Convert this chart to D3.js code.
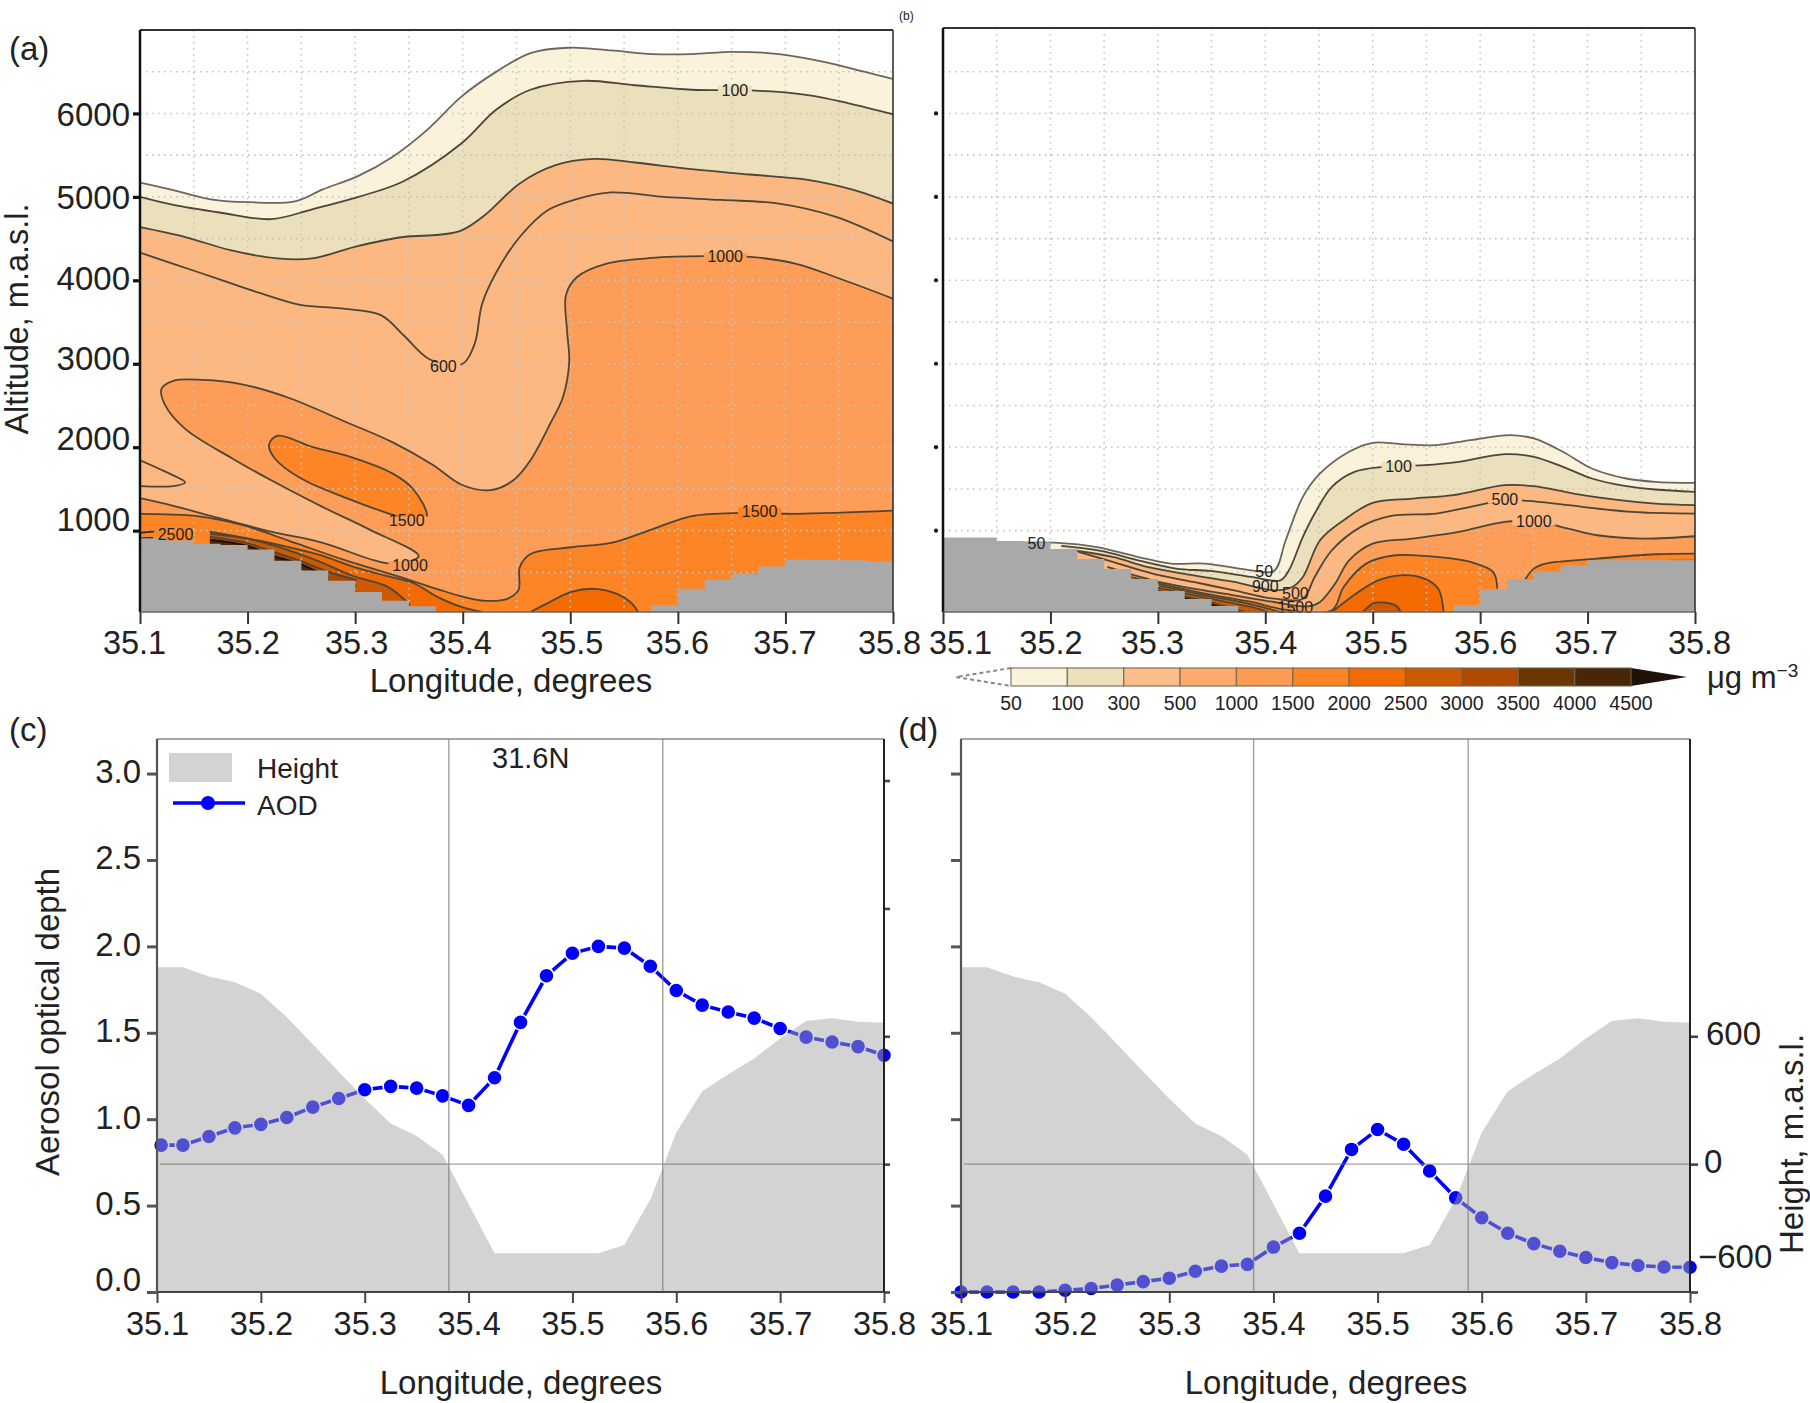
<!DOCTYPE html>
<html>
<head>
<meta charset="utf-8">
<script src="https://cdnjs.cloudflare.com/ajax/libs/d3/7.8.5/d3.min.js"></script>
<style>
  body { margin: 0; background: #fff; }
  text { font-family: 'Liberation Sans', sans-serif; fill: #222; }
</style>
</head>
<body>
<div id="chart"></div>
<script>
// Longitude axis, shared by all panels
const lonTicks = [35.1, 35.2, 35.3, 35.4, 35.5, 35.6, 35.7, 35.8];
const altTicks = [1000, 2000, 3000, 4000, 5000, 6000];
const gridLons = [35.15, 35.2, 35.25, 35.3, 35.35, 35.4, 35.45, 35.5, 35.55, 35.6, 35.65, 35.7, 35.75];
const gridAlts = [500, 1000, 1500, 2000, 2500, 3000, 3500, 4000, 4500, 5000, 5500, 6000, 6500];

// Panel (a) contours, [longitude, altitude]
const a50 = [[35.1, 5172], [35.131, 5081], [35.169, 4963], [35.201, 4936], [35.244, 4947], [35.27, 5090], [35.303, 5252], [35.335, 5482], [35.367, 5803], [35.399, 6204], [35.431, 6498], [35.463, 6723], [35.498, 6787], [35.538, 6755], [35.576, 6712], [35.613, 6712], [35.651, 6739], [35.694, 6712], [35.737, 6616], [35.774, 6498], [35.8, 6413]];
const a100 = [[35.1, 5000], [35.131, 4904], [35.174, 4813], [35.222, 4733], [35.26, 4851], [35.303, 5000], [35.345, 5188], [35.399, 5643], [35.431, 6044], [35.463, 6284], [35.512, 6391], [35.56, 6338], [35.613, 6284], [35.672, 6274], [35.721, 6220], [35.758, 6124], [35.8, 5990]];
const a300 = [[35.1, 4637], [35.142, 4519], [35.185, 4358], [35.228, 4262], [35.26, 4262], [35.303, 4412], [35.345, 4519], [35.378, 4546], [35.399, 4599], [35.421, 4786], [35.453, 5161], [35.485, 5375], [35.522, 5455], [35.56, 5412], [35.613, 5332], [35.667, 5268], [35.721, 5204], [35.764, 5081], [35.8, 4920]];
const a600 = [[35.1, 4332], [35.131, 4198], [35.174, 4011], [35.211, 3850], [35.249, 3706], [35.287, 3663], [35.324, 3583], [35.345, 3342], [35.37, 3048], [35.399, 2994], [35.411, 3235], [35.418, 3717], [35.431, 4091], [35.453, 4519], [35.479, 4840], [35.506, 4974], [35.538, 5054], [35.587, 5000], [35.64, 4963], [35.694, 4920], [35.747, 4760], [35.8, 4465]];
const a1000 = [[35.8, 3781], [35.747, 4037], [35.71, 4198], [35.67, 4278], [35.624, 4289], [35.576, 4268], [35.533, 4198], [35.506, 4037], [35.496, 3824], [35.497, 3395], [35.499, 3021], [35.493, 2593], [35.482, 2299], [35.463, 1844], [35.447, 1603], [35.426, 1486], [35.399, 1550], [35.372, 1790], [35.335, 2058], [35.292, 2299], [35.238, 2593], [35.195, 2754], [35.158, 2807], [35.131, 2796], [35.12, 2700], [35.123, 2513], [35.142, 2219], [35.185, 1871], [35.222, 1603], [35.27, 1282], [35.313, 1015], [35.359, 694], [35.34, 603], [35.319, 640], [35.27, 854], [35.222, 988], [35.174, 1149], [35.131, 1298], [35.1, 1389]];
const aWedge = [[35.1, 1844], [35.123, 1710], [35.142, 1577], [35.131, 1534], [35.1, 1534]];
const aLobe1500 = [[35.228, 2138], [35.26, 2004], [35.292, 1898], [35.335, 1683], [35.354, 1496], [35.367, 1175], [35.363, 1084], [35.332, 1202], [35.292, 1389], [35.249, 1630], [35.225, 1871], [35.22, 2031]];
const a1500 = [[35.1, 1202], [35.153, 1175], [35.195, 1068], [35.238, 881], [35.292, 640], [35.34, 453], [35.378, 293], [35.399, 212], [35.421, 159], [35.442, 186], [35.452, 293], [35.453, 560], [35.463, 720], [35.501, 801], [35.538, 854], [35.576, 1015], [35.613, 1175], [35.659, 1213], [35.71, 1202], [35.8, 1239]];
const a2000Bump = [[35.463, 25], [35.479, 132], [35.501, 266], [35.522, 303], [35.544, 239], [35.557, 132], [35.563, 25]];
const a2000 = [[35.165, 989], [35.199, 909], [35.236, 809], [35.267, 709], [35.298, 569], [35.329, 457], [35.354, 373], [35.376, 209], [35.398, 89], [35.418, 25]];
const a2500 = [[35.165, 961], [35.205, 889], [35.237, 769], [35.267, 629], [35.298, 457], [35.33, 329], [35.351, 109]];
const a3000 = [[35.165, 925], [35.199, 853], [35.224, 745], [35.251, 629], [35.275, 509], [35.301, 409]];
const a3500 = [[35.165, 889], [35.199, 821], [35.224, 697], [35.251, 589], [35.275, 433]];
const aEdge3500 = [[35.1, 900], [35.112, 905]];
const aEdge3000 = [[35.1, 975], [35.113, 990]];

// Panel (b) contours
const b50 = [[35.175, 857], [35.207, 853], [35.242, 805], [35.279, 693], [35.312, 605], [35.344, 605], [35.387, 525], [35.408, 517], [35.419, 885], [35.435, 1405], [35.451, 1685], [35.478, 1945], [35.5, 2053], [35.526, 2037], [35.559, 2025], [35.591, 2085], [35.628, 2145], [35.65, 2105], [35.677, 1945], [35.704, 1745], [35.736, 1625], [35.763, 1585], [35.8, 1573]];
const b100 = [[35.21, 817], [35.247, 757], [35.279, 653], [35.317, 545], [35.349, 517], [35.387, 445], [35.414, 405], [35.422, 525], [35.435, 925], [35.446, 1205], [35.462, 1525], [35.483, 1705], [35.51, 1765], [35.548, 1785], [35.58, 1825], [35.623, 1917], [35.65, 1885], [35.677, 1765], [35.704, 1625], [35.736, 1533], [35.763, 1493], [35.8, 1465]];
const b300 = [[35.22, 765], [35.258, 685], [35.29, 565], [35.333, 465], [35.371, 385], [35.408, 285], [35.425, 325], [35.435, 445], [35.451, 885], [35.473, 1125], [35.5, 1333], [35.537, 1385], [35.575, 1425], [35.623, 1545], [35.65, 1533], [35.687, 1445], [35.73, 1365], [35.763, 1325], [35.8, 1305]];
const b500 = [[35.226, 745], [35.258, 625], [35.295, 485], [35.333, 385], [35.371, 285], [35.408, 185], [35.435, 185], [35.446, 445], [35.462, 765], [35.489, 1045], [35.516, 1173], [35.559, 1205], [35.591, 1285], [35.623, 1365], [35.645, 1357], [35.682, 1305], [35.741, 1225], [35.8, 1205]];
const b1000 = [[35.253, 565], [35.295, 405], [35.333, 305], [35.371, 225], [35.408, 145], [35.44, 93], [35.451, 145], [35.465, 365], [35.478, 645], [35.5, 845], [35.537, 905], [35.58, 985], [35.623, 1105], [35.65, 1117], [35.682, 1025], [35.709, 945], [35.752, 905], [35.8, 933]];
const b1500 = [[35.274, 445], [35.301, 365], [35.344, 245], [35.387, 145], [35.419, 53], [35.462, 45], [35.473, 325], [35.494, 605], [35.521, 705], [35.559, 685], [35.591, 625], [35.612, 505], [35.616, 305]];
const b1500Right = [[35.642, 417], [35.65, 545], [35.661, 605], [35.709, 665], [35.763, 717], [35.8, 725]];
const b2000Right = [[35.776, 653], [35.8, 661]];
const b2000Left = [[35.301, 345], [35.344, 225], [35.387, 117], [35.414, 25]];
const b2000 = [[35.462, 25], [35.489, 285], [35.505, 405], [35.526, 465], [35.548, 425], [35.561, 305], [35.566, 25]];
const b2500Bump = [[35.491, 25], [35.502, 133], [35.521, 105], [35.526, 25]];
const b2500 = [[35.3, 317], [35.344, 197], [35.387, 85], [35.403, 25]];
const b3000 = [[35.3, 285], [35.344, 157], [35.381, 25]];
const b3500 = [[35.3, 265], [35.333, 165], [35.376, 25]];

// Model terrain cells in (a) and (b), one value per 0.025 degree from 35.1
const cellLons = [35.1, 35.125, 35.15, 35.175, 35.2, 35.225, 35.25, 35.275, 35.3, 35.325, 35.35, 35.375, 35.4, 35.425, 35.45, 35.475, 35.5, 35.525, 35.55, 35.575, 35.6, 35.625, 35.65, 35.675, 35.7, 35.725, 35.75, 35.775, 35.8];
const terrainA = [908, 881, 844, 828, 774, 640, 522, 400, 266, 159, 95, 25, 25, 25, 25, 25, 25, 25, 25, 105, 303, 410, 480, 571, 651, 651, 646, 630, 630];
const terrainB = [917, 917, 877, 860, 781, 661, 541, 421, 277, 181, 97, 25, 25, 25, 25, 25, 25, 25, 25, 105, 297, 417, 505, 585, 645, 645, 645, 645, 645];

// Contour labels
const aLabels = ['100', '1000', '600', '1500', '1000', '1500', '2500'];
const aLabelLon = [35.653, 35.644, 35.382, 35.348, 35.351, 35.676, 35.133];
const aLabelAlt = [6284, 4284, 2968, 1122, 587, 1229, 961];
const bLabels = ['50', '100', '500', '1000', '50', '900', '500', '1500'];
const bLabelLon = [35.187, 35.524, 35.623, 35.65, 35.399, 35.4, 35.428, 35.428];
const bLabelAlt = [853, 1773, 1373, 1109, 513, 333, 253, 85];

// Colour bar
const barLabels = ['50', '100', '300', '500', '1000', '1500', '2000', '2500', '3000', '3500', '4000', '4500'];
const barColors = ['#fbf2dc', '#ecdfbb', '#fdbe8a', '#fdab6c', '#fe9b52', '#fe8526', '#f36b00', '#cc5a05', '#b04a02', '#6b3500', '#4a2608'];

// Panels (c) and (d)
const aodLons = cellLons;
const aodLonsC = [35.104].concat(cellLons.slice(1));
const aodC = [0.85, 0.85, 0.90, 0.95, 0.97, 1.01, 1.07, 1.12, 1.17, 1.19, 1.18, 1.135, 1.08, 1.24, 1.56, 1.83, 1.96, 2.0, 1.99, 1.885, 1.745, 1.66, 1.62, 1.585, 1.525, 1.475, 1.447, 1.42, 1.37];
const aodD = [0, 0, 0, 0, 0.01, 0.02, 0.04, 0.06, 0.08, 0.12, 0.15, 0.16, 0.26, 0.34, 0.555, 0.825, 0.94, 0.855, 0.70, 0.545, 0.43, 0.34, 0.28, 0.236, 0.20, 0.17, 0.153, 0.145, 0.143];
const heightValues = [924, 924, 880, 853, 800, 689, 563, 433, 307, 191, 132, 44, -187, -418, -418, -418, -418, -418, -380, -166, 149, 342, 422, 496, 590, 672, 685, 668, 664];
const aodTicks = [0, 0.5, 1, 1.5, 2, 2.5, 3];
const heightTicksC = [-600, 0, 600, 1200, 1800];
const heightTicksD = [-600, 0, 600];
const ruleLons = [35.381, 35.587];
const seaLevel = 0;

const peach = '#fdb780', mid = '#fe9d58', orange = '#fe8526', deep = '#f36b00', burnt = '#cc5a05', brown = '#a84802', dark = '#4a2608';

const svg = d3.select('#chart').
append('svg').
attr('width', 1810).
attr('height', 1403).
style('display', 'block');

function addText(str, x, y, size, rotate) {
  const t = svg.append('text').
  attr('font-size', size).
  text(str);
  if (rotate) {
    t.attr('transform', 'translate(' + x + ',' + y + ') rotate(-90)').attr('text-anchor', 'middle');
  } else {
    t.attr('x', x).attr('y', y);
  }
  return t;
}

function styleAxis(g, tickWidth, tickColor, fontSize) {
  g.select('.domain').remove();
  g.selectAll('line').attr('stroke', tickColor).attr('stroke-width', tickWidth);
  g.selectAll('text').attr('font-size', fontSize).attr('font-family', 'Liberation Sans').attr('fill', '#222');
}

function drawSection(box, layers, terrain, contours, labels) {
  const x = d3.scaleLinear().domain([35.1, 35.8]).range([box.left, box.right]);
  const y = d3.scaleLinear().domain([25, box.topAlt]).range([box.bottom, box.top]);
  const id = 'clip' + box.left;
  const bottomY = box.bottom;

  svg.append('clipPath').attr('id', id).append('rect').
  attr('x', box.left).attr('y', box.top).
  attr('width', box.right - box.left).attr('height', box.bottom - box.top);

  const plot = svg.append('g').attr('clip-path', 'url(#' + id + ')');
  plot.append('rect').
  attr('x', box.left).attr('y', box.top).
  attr('width', box.right - box.left).attr('height', box.bottom - box.top).
  attr('fill', '#fffffd');

  const line = d3.line().x(d => x(d[0])).y(d => y(d[1])).curve(d3.curveCatmullRom.alpha(0.5));

  layers.forEach(function (l) {
    const pts = l.pts;
    let path;
    if (l.closed) {
      path = d3.line().x(d => x(d[0])).y(d => y(d[1])).curve(d3.curveCatmullRomClosed.alpha(0.5))(pts);
    } else {
      path = line(pts) + 'L' + x(pts[pts.length - 1][0]) + ',' + bottomY + 'L' + x(pts[0][0]) + ',' + bottomY + 'Z';
    }
    plot.append('path').attr('d', path).attr('fill', l.color);
  });

  // dotted lat/lon grid sits on top of the shading
  gridLons.forEach(function (v) {
    plot.append('line').attr('x1', x(v)).attr('x2', x(v)).attr('y1', box.top).attr('y2', box.bottom).
    attr('stroke', '#c4c4c4').attr('stroke-width', 1.6).attr('stroke-dasharray', '1.6 4.4');
  });
  gridAlts.forEach(function (v) {
    plot.append('line').attr('x1', box.left).attr('x2', box.right).attr('y1', y(v)).attr('y2', y(v)).
    attr('stroke', '#c4c4c4').attr('stroke-width', 1.6).attr('stroke-dasharray', '1.6 4.4');
  });

  contours.forEach(function (c) {
    let path;
    if (c.closed) {
      path = d3.line().x(d => x(d[0])).y(d => y(d[1])).curve(d3.curveCatmullRomClosed.alpha(0.5))(c.pts);
    } else {
      path = line(c.pts);
    }
    plot.append('path').attr('d', path).attr('fill', 'none').
    attr('stroke', c.color || '#4d4636').attr('stroke-width', c.width || 1.8);
  });

  const terrainLine = d3.line().x((d, i) => x(cellLons[i])).y(d => y(d)).curve(d3.curveStepAfter);
  plot.append('path').
  attr('d', terrainLine(terrain) + 'L' + box.right + ',' + bottomY + 'L' + box.left + ',' + bottomY + 'Z').
  attr('fill', '#a9a9a9');

  // contour labels break the line they sit on
  labels.names.forEach(function (name, i) {
    const lx = x(labels.lons[i]);
    const ly = y(labels.alts[i]);
    const w = name.length * 9 + 7;
    if (labels.gaps[i]) {
      plot.append('rect').attr('x', lx - w / 2).attr('y', ly - 4).attr('width', w).attr('height', 8).attr('fill', labels.gaps[i]);
    }
    svg.append('text').attr('x', lx).attr('y', ly).attr('dy', '0.36em').
    attr('text-anchor', 'middle').attr('font-size', 16).text(name);
  });

  // frame
  [[box.left, box.top, box.right, box.top, 2, '#333'],
  [box.left, box.top, box.left, box.bottom, 2.5, '#111'],
  [box.right, box.top, box.right, box.bottom, 1.6, '#333'],
  [box.left, box.bottom, box.right, box.bottom, 1.6, '#666']].forEach(function (f) {
    svg.append('line').attr('x1', f[0]).attr('y1', f[1]).attr('x2', f[2]).attr('y2', f[3]).
    attr('stroke-width', f[4]).attr('stroke', f[5]);
  });

  const xAxis = d3.axisBottom(x).tickValues(lonTicks).tickFormat(d3.format('.1f')).tickSize(12).tickPadding(7);
  const xG = svg.append('g').attr('transform', 'translate(0,' + box.bottom + ')').call(xAxis);
  styleAxis(xG, 2, '#333', 32.5);
  xG.selectAll('text').attr('dx', (d, i) => box.lonLabelShift[i]);

  if (box.yLabels) {
    const yAxis = d3.axisLeft(y).tickValues(altTicks).tickSize(7).tickPadding(3).tickFormat(d3.format('d'));
    const yG = svg.append('g').attr('transform', 'translate(' + box.left + ',0)').call(yAxis);
    styleAxis(yG, 3.2, '#111', 33);
    yG.selectAll('text').attr('dy', (d, i) => 11.5 + box.yLabels[i]);
  } else {
    // (b) keeps only a small dot where each altitude tick was
    svg.selectAll(null).
    data(altTicks).
    enter().
    append('circle').
    attr('cx', box.left - 7).
    attr('cy', d => y(d)).
    attr('r', 2.1).
    attr('fill', '#111');
  }
}

drawSection(
{ left: 140, right: 893, top: 30, bottom: 612, topAlt: 7000,
  lonLabelShift: [-6, 0, 1, -3, 1, -1, -1, -4],
  yLabels: [-12, -9, -6, -2, 0, 1] },
[{ pts: a50, color: '#fbf2dc' }, { pts: a100, color: '#ecdfbb' }, { pts: a300, color: peach },
{ pts: a1000, color: mid }, { pts: aLobe1500, color: orange, closed: true }, { pts: a1500, color: orange },
{ pts: a2000Bump, color: deep }, { pts: a2000, color: deep }, { pts: a2500, color: burnt },
{ pts: a3000, color: brown }, { pts: a3500, color: dark }],
terrainA,
[{ pts: a50, color: '#6b665c' }, { pts: a100 }, { pts: a300 }, { pts: a600 }, { pts: a1000 }, { pts: aWedge },
{ pts: aLobe1500, closed: true }, { pts: a1500 }, { pts: a2000Bump }, { pts: a2000 }, { pts: a2500 }, { pts: a3000 },
{ pts: a3500, color: '#1c0f02' }, { pts: aEdge3500, color: '#1c0f02', width: 3 }, { pts: aEdge3000, color: '#4d3010', width: 2 }],
{ names: aLabels, lons: aLabelLon, alts: aLabelAlt,
  gaps: ['#ecdfbb', mid, peach, mid, mid, orange, null] });

drawSection(
{ left: 943, right: 1695, top: 28, bottom: 612, topAlt: 7024,
  lonLabelShift: [17, 0, -6, 0, 3, 5, -2, 4],
  yLabels: null },
[{ pts: b50, color: '#fbf2dc' }, { pts: b100, color: '#ecdfbb' }, { pts: b300, color: peach },
{ pts: b1000, color: mid }, { pts: b1500, color: orange }, { pts: b1500Right, color: orange },
{ pts: b2000Right, color: deep }, { pts: b2000Left, color: deep }, { pts: b2000, color: deep },
{ pts: b2500Bump, color: burnt }, { pts: b2500, color: burnt }, { pts: b3000, color: brown }, { pts: b3500, color: '#2e1703' }],
terrainB,
[{ pts: b50, color: '#6b665c' }, { pts: b100 }, { pts: b300 }, { pts: b500 }, { pts: b1000 }, { pts: b1500 },
{ pts: b1500Right }, { pts: b2000Left }, { pts: b2000 }, { pts: b2500Bump }, { pts: b2500 }, { pts: b3000 }, { pts: b3500, color: '#1c0f02' }],
{ names: bLabels, lons: bLabelLon, alts: bLabelAlt,
  gaps: [null, '#ecdfbb', peach, peach, null, null, null, null] });

// Colour bar under (b)
const barX = d3.scalePoint().domain(barLabels).range([1011, 1631]);
const barTop = 668;
const barH = 18;
svg.append('path').
attr('d', 'M' + barX('50') + ',' + barTop + 'L956,' + (barTop + barH / 2) + 'L' + barX('50') + ',' + (barTop + barH)).
attr('fill', '#fff').attr('stroke', '#888').attr('stroke-width', 2).attr('stroke-dasharray', '4 3');
svg.append('path').
attr('d', 'M' + barX('4500') + ',' + barTop + 'L1687,' + (barTop + barH / 2) + 'L' + barX('4500') + ',' + (barTop + barH) + 'Z').
attr('fill', '#22110a');
barColors.forEach(function (c, i) {
  svg.append('rect').
  attr('x', barX(barLabels[i])).attr('y', barTop).
  attr('width', barX.step()).attr('height', barH).
  attr('fill', c).attr('stroke', '#6e6657').attr('stroke-width', 1.4).attr('stroke-opacity', 0.75);
});
barLabels.forEach(function (lab) {
  svg.append('text').attr('x', barX(lab)).attr('y', 710).
  attr('text-anchor', 'middle').attr('font-size', 19.5).text(lab);
});
const unit = svg.append('text').attr('x', 1707).attr('y', 688).attr('font-size', 31);
unit.append('tspan').text('μg m');
unit.append('tspan').attr('dy', -11).attr('font-size', 19).text('−3');

function drawAod(box, lons, values) {
  const x = d3.scaleLinear().domain([35.1, 35.8]).range([box.left, box.right]);
  const y = d3.scaleLinear().domain([0, 3.2]).range([box.bottom, box.top]);
  const yH = d3.scaleLinear().domain([-600, 1995]).range([box.bottom, box.top]);
  const pts = lons.map((lon, i) => [lon, values[i]]);

  svg.append('line').attr('x1', box.left).attr('x2', box.right).attr('y1', box.top).attr('y2', box.top).
  attr('stroke', '#888').attr('stroke-width', 1.4);

  svg.append('path').
  attr('d', d3.line().x(d => x(d[0])).y(d => y(d[1]))(pts)).
  attr('fill', 'none').attr('stroke', '#0000ff').attr('stroke-width', 3.6);
  svg.selectAll(null).
  data(pts).
  enter().
  append('circle').
  attr('cx', d => x(d[0])).
  attr('cy', d => y(d[1])).
  attr('r', 7.6).
  attr('fill', '#0000ff').
  attr('stroke', '#fff').
  attr('stroke-width', 1.6);

  // terrain goes over the AOD line at part opacity, that is what dims the dots
  const area = d3.area().x((d, i) => x(aodLons[i])).y0(box.bottom).y1(d => yH(d));
  svg.append('path').attr('d', area(heightValues)).attr('fill', '#a5a5a5').attr('fill-opacity', 0.486);

  ruleLons.forEach(function (v) {
    svg.append('line').attr('x1', x(v)).attr('x2', x(v)).attr('y1', box.top).attr('y2', box.bottom).
    attr('stroke', '#777').attr('stroke-opacity', 0.7).attr('stroke-width', 1.4);
  });
  svg.append('line').attr('x1', box.left + 3).attr('x2', box.right).attr('y1', yH(seaLevel)).attr('y2', yH(seaLevel)).
  attr('stroke', '#777').attr('stroke-opacity', 0.7).attr('stroke-width', 1.4);

  const xAxis = d3.axisBottom(x).tickValues(lonTicks).tickFormat(d3.format('.1f')).tickSize(11).tickPadding(9);
  const xG = svg.append('g').attr('transform', 'translate(0,' + box.bottom + ')').call(xAxis);
  styleAxis(xG, 2, '#444', 32.5);
  svg.append('line').attr('x1', box.left).attr('x2', box.right).attr('y1', box.bottom).attr('y2', box.bottom).
  attr('stroke', '#444').attr('stroke-width', 2);

  const yAxis = d3.axisLeft(y).tickValues(aodTicks).tickSize(10).tickPadding(6).
  tickFormat(box.aodLabels ? d3.format('.1f') : '');
  const yG = svg.append('g').attr('transform', 'translate(' + box.left + ',0)').call(yAxis);
  styleAxis(yG, 3, '#555', 33);
  yG.selectAll('text').attr('dy', d => d === 0 ? -1.5 : 9);
  svg.append('line').attr('x1', box.left).attr('x2', box.left).attr('y1', box.top).attr('y2', box.bottom).
  attr('stroke', '#555').attr('stroke-width', 2.2);

  const rAxis = d3.axisRight(yH).tickValues(box.heightLabels ? heightTicksD : heightTicksC).
  tickSize(box.heightLabels ? 8 : 6).tickPadding(8).
  tickFormat(function (d) {
    if (!box.heightLabels) return '';
    return d < 0 ? '−' + Math.abs(d) : d;
  });
  const rG = svg.append('g').attr('transform', 'translate(' + box.right + ',0)').call(rAxis);
  styleAxis(rG, 2.6, '#444', 33);
  if (box.heightLabels) {
    rG.selectAll('text').
    attr('dx', d => d < 0 ? -8 : (d === 0 ? -2 : 0)).
    attr('dy', d => d < 0 ? -25 : 8);
  }
  svg.append('line').attr('x1', box.right).attr('x2', box.right).attr('y1', box.top).attr('y2', box.bottom).
  attr('stroke', '#222').attr('stroke-width', 2);
}

drawAod({ left: 157, right: 884, top: 739, bottom: 1292, aodLabels: true, heightLabels: false }, aodLonsC, aodC);
drawAod({ left: 961, right: 1690, top: 739, bottom: 1292, aodLabels: false, heightLabels: true }, aodLons, aodD);

// Legend in (c)
svg.append('rect').attr('x', 169).attr('y', 753).attr('width', 63).attr('height', 29).
attr('fill', '#a5a5a5').attr('fill-opacity', 0.486);
svg.append('line').attr('x1', 173).attr('x2', 245).attr('y1', 803).attr('y2', 803).
attr('stroke', '#0000ff').attr('stroke-width', 3.4);
svg.append('circle').attr('cx', 208).attr('cy', 803).attr('r', 7).attr('fill', '#0000ff');
addText('Height', 257, 778, 28);
addText('AOD', 257, 815, 28);
addText('31.6N', 492, 768, 29);

// Panel letters and axis titles
addText('(a)', 9, 60, 33);
addText('(b)', 899, 20, 12);
addText('(c)', 9, 741, 33);
addText('(d)', 898, 741, 33);

addText('Longitude, degrees', 511, 691.5, 33).attr('text-anchor', 'middle');
addText('Longitude, degrees', 521, 1394, 33).attr('text-anchor', 'middle');
addText('Longitude, degrees', 1326, 1394, 33).attr('text-anchor', 'middle');

addText('Altitude, m.a.s.l.', 28, 319, 32.5, true);
addText('Aerosol optical depth', 59, 1022, 33, true);
addText('Height, m.a.s.l.', 1803, 1144, 33, true);
</script>
</body>
</html>
